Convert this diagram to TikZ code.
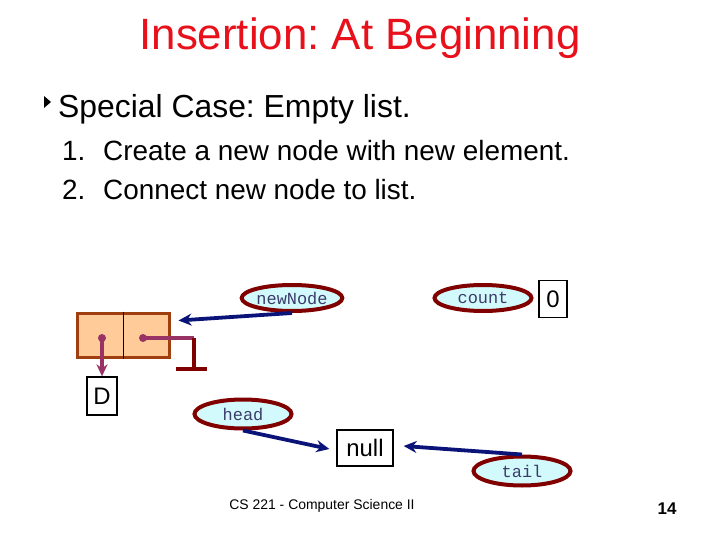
\documentclass[tikz,border=0pt]{standalone}
\usepackage{fontspec}
\setmainfont{Liberation Sans}
\newfontfamily\monofont{Liberation Mono}
\usetikzlibrary{shapes.geometric,arrows.meta,calc}
\definecolor{titlered}{HTML}{E8101A}
\definecolor{navyarrow}{HTML}{0A1478}
\definecolor{ptrpurple}{HTML}{993366}
\definecolor{darkred}{HTML}{800000}
\definecolor{cellfill}{HTML}{FFCC99}
\definecolor{cellborder}{HTML}{A04010}
\definecolor{ellfill}{HTML}{D2FAFC}
\definecolor{elltext}{HTML}{3C3C6A}
\tikzset{
  varell/.style={ellipse, draw=darkred, line width=4bp, fill=ellfill, inner sep=0pt,
    minimum width=97bp, minimum height=26bp, text=elltext, font=\monofont\fontsize{17}{17}\selectfont},
  valbox/.style={draw=black, line width=1.3bp, fill=white, inner sep=0pt, font=\fontsize{24}{24}\selectfont},
  refarrow/.style={navyarrow, line width=3.8bp, -{Stealth[length=13bp,width=12bp]}},
  ptrline/.style={ptrpurple, line width=3.5bp},
  txt/.style={inner sep=0pt, anchor=base west}
}
\begin{document}
\frenchspacing
\begin{tikzpicture}[x=1bp,y=-1bp]
\useasboundingbox (0,0) rectangle (720,540);
% title and text
\node[inner sep=0pt, anchor=base, text=titlered, font=\fontsize{44}{44}\selectfont] (title) at (360,50) {Insertion: At Beginning};
\fill (44,96) -- (51,102) -- (44,108) -- cycle;
\node[txt, font=\fontsize{32}{32}\selectfont] (special) at (58,118) {Special Case: Empty list.};
\node[txt, font=\fontsize{28}{28}\selectfont] (n1) at (62,161) {1.};
\node[txt, font=\fontsize{28}{28}\selectfont] (t1) at (103,161) {Create a new node with new element.};
\node[txt, font=\fontsize{28}{28}\selectfont] (n2) at (62,200) {2.};
\node[txt, font=\fontsize{28}{28}\selectfont] (t2) at (103,200) {Connect new node to list.};
% list cell
\node[draw=cellborder, line width=3bp, fill=cellfill, minimum width=92bp, minimum height=44bp, inner sep=0pt] (cell) at (123,335) {};
\draw[black, line width=1bp] (cell.north) -- (cell.south);
\coordinate (dleft) at (102,338);
\coordinate (dright) at (143,338);
\coordinate (gcorner) at (194,338);
\coordinate (gbase) at (194,369);
\node[valbox, minimum width=30bp, minimum height=38bp] (D) at (102,396) {D};
\draw[ptrline, -{Stealth[length=12bp,width=11bp]}] (dleft) -- (D.north);
\fill[ptrpurple] (dleft) circle (4bp) (dright) circle (4bp);
\draw[ptrline] (dright) -- (gcorner);
\draw[darkred, line width=4bp] (gcorner) -- (gbase);
\draw[darkred, line width=4bp] (176,369) -- (207,369);
% variables
\node[varell] (nn) at (292,298) {newNode};
\node[varell] (count) at (483,298) {count};
\node[valbox, minimum width=28bp, minimum height=37bp] (zero) at (553,299) {0};
\node[varell, minimum height=29bp] (head) at (243,414) {head};
\node[valbox, minimum width=56bp, minimum height=36bp] (null) at (365,448) {null};
\node[varell, minimum height=29bp] (tail) at (522,471) {tail};
% arrows
\draw[refarrow] (nn.south) -- ($(cell.north east)+(8,9)$);
\draw[refarrow] (head.south) -- ($(null.west)+(-7,1)$);
\draw[refarrow] (tail.north) -- ($(null.east)+(10,-2)$);
% footer
\node[inner sep=0pt, anchor=base, font=\fontsize{14}{14}\selectfont] (footer) at (322,509) {CS 221 - Computer Science II};
\node[inner sep=0pt, anchor=base, font=\bfseries\fontsize{17}{17}\selectfont] (page) at (667,514) {14};
\end{tikzpicture}
\end{document}
